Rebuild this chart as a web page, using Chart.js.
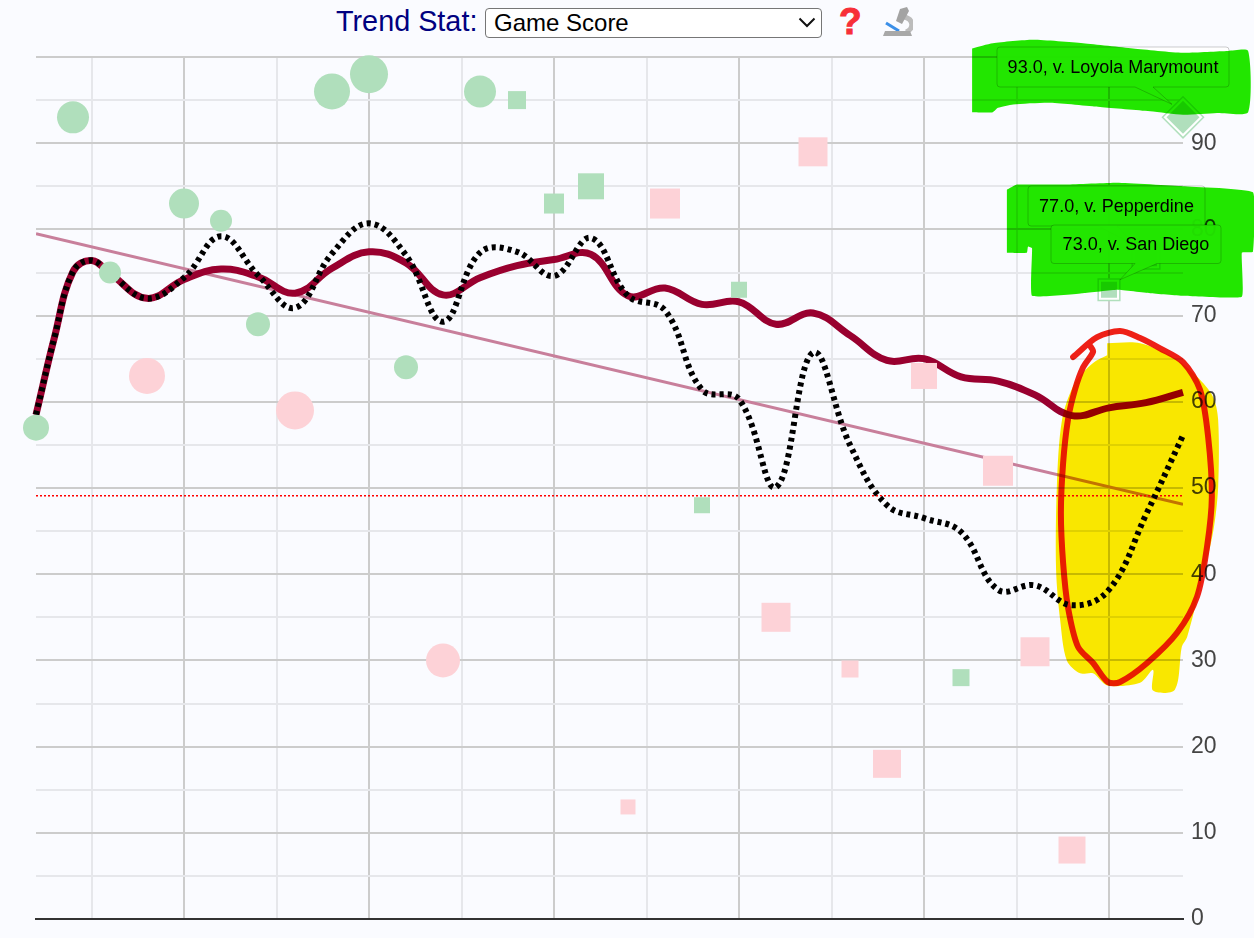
<!DOCTYPE html>
<html>
<head>
<meta charset="utf-8">
<title>Trend Stat</title>
<script src="https://cdn.jsdelivr.net/npm/chart.js@4"></script>
<style>
    html, body { margin: 0; padding: 0; background: #fafbff; overflow: hidden; }
    body { width: 1254px; height: 938px; position: relative; font-family: "Liberation Sans", Arial, sans-serif; }
    canvas { position: absolute; left: 0; top: 0; }
    #titulo { position: absolute; left: 336px; top: 4px; font-size: 28.8px; line-height: 34px; color: #000080; }
    #stat { position: absolute; left: 485px; top: 8px; width: 337px; height: 30px; font-family: inherit; font-size: 24px;
            appearance: none; -webkit-appearance: none; background: #fff; border: 1px solid #767676; border-radius: 4px;
            padding: 0 8px 1px; color: #000; }
    #seta { position: absolute; left: 798px; top: 17px; }
    #ajuda { position: absolute; left: 839px; top: 3px; font-size: 37px; line-height: 38px; font-weight: bold; color: #f72f38;
             -webkit-text-stroke: 1px #f72f38; }
    #micro { position: absolute; left: 882px; top: 6px; }
</style>
</head>
<body>
<div id="titulo">Trend Stat:</div>
<select id="stat"><option>Game Score</option></select>
<svg id="seta" width="18" height="11" viewBox="0 0 18 11"><path d="M1.5 1.5 L9 9 L16.5 1.5" fill="none" stroke="#111" stroke-width="2"/></svg>
<div id="ajuda">?</div>
<svg id="micro" width="31" height="30" viewBox="0 0 31 30">
    <path d="M22 11 C32 13 32 23 24 26" fill="none" stroke="#bcbcbc" stroke-width="5"/>
    <path d="M18 3 L25 1 L27 5 L20 18 L14 15 Z" fill="#a3a3a3"/>
    <path d="M4 17 L17 25" stroke="#3b8fe8" stroke-width="3"/>
    <path d="M3 25 L28 25 L30 30 L1 30 Z" fill="#a8a8a8"/>
</svg>
<canvas id="grafico" width="1254" height="938"></canvas>
<script>
// valores, um por jogo
const jogos = Array.from({ length: 32 }, (_, i) => i);
const gameScores = [57, 93, 75, 63, 83, 81, 69, 59, 96, 98, 64, 30, 96, 95, 83, 85, 13, 83, 48, 73, 35, 89, 29, 18, 63, 28, 52, 31, 8, 73, 77, 93];
const resultados = ['W', 'W', 'W', 'L', 'W', 'W', 'W', 'L', 'W', 'W', 'W', 'L', 'W', 'W', 'W', 'W', 'L', 'L', 'W', 'W', 'L', 'L', 'L', 'L', 'L', 'W', 'L', 'L', 'L', 'W', 'W', 'W'];
const locais = ['H', 'H', 'H', 'H', 'H', 'H', 'H', 'H', 'H', 'H', 'H', 'H', 'H', 'A', 'A', 'A', 'A', 'A', 'A', 'A', 'A', 'A', 'A', 'A', 'A', 'A', 'A', 'A', 'A', 'A', 'A', 'N'];
const tamanhos = [26, 32, 22, 36, 30, 22, 24, 38, 36, 38, 24, 34, 32, 18, 20, 26, 15, 30, 16, 16, 29, 29, 17, 28, 26, 17, 30, 29, 27, 16, 22, 33];
// posicoes das leituras das medias: um por jogo, mais duas leituras no arranque
const trendX = [0, 0.5, 1, 1.5, 2, 3, 4, 5, 6, 7, 8, 9, 10, 11, 12, 13, 14, 15, 16, 17, 18, 19, 20, 21, 22, 23, 24, 25, 26, 27, 28, 29, 30, 31];
const seasonTrend = [58.5, 67.5, 75.1, 76.4, 74.9, 72.0, 74.2, 75.4, 74.5, 72.6, 75.5, 77.4, 76.1, 72.4, 74.4, 75.8, 76.5, 77.1, 72.3, 73.2, 71.3, 71.6, 69.0, 70.3, 67.7, 64.8, 65.0, 62.9, 62.4, 60.8, 58.4, 59.3, 59.9, 61.1];
const recentTrend = [58.5, 67.5, 75.1, 76.4, 74.9, 72.0, 74.4, 79.2, 74.7, 70.9, 77.2, 80.7, 77.0, 69.3, 77.3, 77.4, 74.6, 79.0, 72.3, 70.6, 61.4, 60.3, 50.1, 65.7, 55.0, 48.0, 46.5, 44.9, 38.2, 38.7, 36.4, 38.2, 46.9, 56.1];
const fitLine = [{ x: 0, y: 79.5 }, { x: 31, y: 48.1 }];
const mediaLiga = [{ x: 0, y: 49.1 }, { x: 31, y: 49.1 }];
const destaques = [29, 30, 31];
const adversarios = { 29: 'v. San Diego', 30: 'v. Pepperdine', 31: 'v. Loyola Marymount' };

// marcacoes feitas a mao por cima da imagem, em unidades do grafico
const verdeTopo = [[25.30, 101.0], [25.86, 101.6], [26.95, 102.0], [28.30, 101.6], [29.65, 101.0], [31.0, 100.5], [32.22, 100.7], [32.76, 100.7], [32.76, 93.6], [31.92, 93.5], [31.0, 93.3], [30.11, 93.7], [28.76, 94.2], [27.41, 94.7], [26.41, 94.5], [26.0, 94.1], [25.86, 93.6], [25.30, 93.6]];
const verdeBaixo = [[26.24, 84.6], [26.51, 85.2], [27.86, 85.2], [29.22, 85.4], [31.0, 85.0], [32.89, 84.3], [32.89, 77.4], [32.59, 77.3], [32.59, 72.2], [31.0, 72.3], [30.11, 72.6], [29.22, 73.0], [28.30, 72.6], [26.92, 72.3], [26.92, 77.8], [26.81, 78.0], [26.78, 77.3], [26.24, 77.3]];
const amarelo = [[28.95, 66.8], [29.84, 66.8], [30.73, 65.2], [31.38, 62.9], [31.81, 60.6], [31.95, 57.9], [31.95, 50.1], [31.81, 44.8], [31.46, 38.5], [31.11, 32.7], [30.97, 31.6], [30.78, 26.6], [30.19, 26.5], [30.19, 28.9], [29.84, 27.4], [28.95, 27.1], [28.57, 28.5], [28.22, 28.5], [27.86, 30.0], [27.68, 34.7], [27.57, 40.5], [27.59, 50.1], [27.73, 57.9], [28.08, 62.2], [28.57, 64.5], [28.95, 65.4]];
const circuloVermelho = [[28.03, 65.2], [28.68, 67.5], [29.30, 68.2], [29.84, 67.4], [30.38, 66.2], [31.0, 64.6], [31.46, 61.4], [31.68, 55.9], [31.78, 49.0], [31.65, 43.2], [31.38, 37.4], [30.84, 33.2], [30.03, 29.7], [29.30, 27.5], [28.97, 27.5], [28.57, 29.7], [28.16, 31.6], [27.89, 36.2], [27.76, 41.3], [27.70, 47.1], [27.76, 52.9], [27.89, 57.9], [28.08, 61.4], [28.30, 64.0], [28.57, 65.8], [28.49, 66.5]];

const xTicks = [1.5, 4, 6.5, 9, 11.5, 14, 16.5, 19, 21.5, 24, 26.5, 29];
const xMajor = [4, 9, 14, 19, 24, 29];

const serie = valores => valores.map((y, i) => ({ x: jogos[i], y: y }));
const media = valores => valores.map((y, i) => ({ x: trendX[i], y: y }));
const pares = lista => lista.map(p => ({ x: p[0], y: p[1] }));

function raio(i) {
    if (locais[i] === 'A') return tamanhos[i] * Math.SQRT1_2;
    return tamanhos[i] / 2;
}
function estilo(i) {
    return locais[i] === 'N' ? 'rectRot' : locais[i] === 'A' ? 'rect' : 'circle';
}

// baloes dos tres ultimos jogos, na ordem em que sao pintados
const baloes = [
    { jogo: 31, box: [997, 47, 232, 40], base: [1135, 1153], dx: -11, dy: -13 },
    { jogo: 30, box: [1028, 186, 177, 40], base: [1098, 1117], dx: -11, dy: -10 },
    { jogo: 29, box: [1051, 225, 170, 38.5], base: [1135, 1157], dx: 11, dy: -10 }
];

function desenharBaloes(chart) {
    const ctx = chart.ctx;
    const sx = chart.scales.x;
    const sy = chart.scales.y;
    ctx.save();
    baloes.forEach(b => {
        const [x, y, w, h] = b.box;
        const px = sx.getPixelForValue(b.jogo) + b.dx;
        const py = sy.getPixelForValue(gameScores[b.jogo]) + b.dy;
        ctx.beginPath();
        ctx.moveTo(x + 3, y);
        ctx.lineTo(x + w - 3, y);
        ctx.quadraticCurveTo(x + w, y, x + w, y + 3);
        ctx.lineTo(x + w, y + h - 3);
        ctx.quadraticCurveTo(x + w, y + h, x + w - 3, y + h);
        ctx.lineTo(b.base[1], y + h);
        ctx.lineTo(px, py);
        ctx.lineTo(b.base[0], y + h);
        ctx.lineTo(x + 3, y + h);
        ctx.quadraticCurveTo(x, y + h, x, y + h - 3);
        ctx.lineTo(x, y + 3);
        ctx.quadraticCurveTo(x, y, x + 3, y);
        ctx.closePath();
        ctx.fillStyle = 'rgba(255, 255, 255, 0.95)';
        ctx.fill();
        ctx.strokeStyle = 'rgba(0, 0, 0, 0.2)';
        ctx.lineWidth = 1;
        ctx.stroke();
        ctx.fillStyle = '#000';
        ctx.font = '18px "Liberation Sans", Arial, sans-serif';
        ctx.textAlign = 'center';
        ctx.textBaseline = 'middle';
        ctx.fillText(gameScores[b.jogo].toFixed(1) + ', ' + adversarios[b.jogo], x + w / 2, y + h / 2 + 1);
    });
    ctx.restore();
}

const tintaPlugin = {
    id: 'tinta',
    beforeDatasetDraw(chart, args) {
        const ds = chart.data.datasets[args.index];
        if (!ds.tinta) return;
        const ctx = chart.ctx;
        ctx.save();
        ctx.globalCompositeOperation = 'multiply';
        ctx.beginPath();
        args.meta.dataset.path(ctx);
        if (ds.tinta === 'cheia') {
            ctx.closePath();
            ctx.fillStyle = ds.cor;
            ctx.fill();
        } else {
            ctx.strokeStyle = ds.cor;
            ctx.lineWidth = 6;
            ctx.lineCap = 'round';
            ctx.lineJoin = 'round';
            ctx.stroke();
        }
        ctx.restore();
        return false;
    },
    afterDatasetDraw(chart, args) {
        if (chart.data.datasets[args.index].label === 'Game Score') desenharBaloes(chart);
    }
};

function marcacao(label, lista, tinta, cor, ordem, tensao) {
    return {
        label: label, data: pares(lista), tinta: tinta, cor: cor, order: ordem,
        showLine: true, pointRadius: 0, tension: tensao, capBezierPoints: false, clip: false
    };
}

new Chart(document.getElementById('grafico').getContext('2d'), {
    type: 'scatter',
    data: {
        datasets: [
            { label: 'Fit', data: fitLine, showLine: true, pointRadius: 0, borderColor: '#c87f9b', borderWidth: 3, order: 7 },
            { label: 'Media', data: mediaLiga, showLine: true, pointRadius: 0, borderColor: '#ff0000', borderWidth: 1.5, borderDash: [2, 2], order: 6 },
            { label: 'Season', data: media(seasonTrend), showLine: true, pointRadius: 0, borderColor: '#99002f', borderWidth: 7, tension: 0.4, capBezierPoints: false, clip: false, order: 5 },
            { label: 'Recent', data: media(recentTrend), showLine: true, pointRadius: 0, borderColor: '#000', borderWidth: 6, borderDash: [4, 4], tension: 0.4, capBezierPoints: false, clip: false, order: 4 },
            {
                label: 'Anel', data: destaques.map(i => ({ x: jogos[i], y: gameScores[i] })), order: 3, clip: false,
                pointStyle: c => estilo(destaques[c.dataIndex]),
                pointRadius: c => raio(destaques[c.dataIndex]) + 4,
                pointBackgroundColor: '#fff', pointBorderColor: '#b0dfbc', pointBorderWidth: 1.5
            },
            {
                label: 'Game Score', data: serie(gameScores), order: 2, clip: false,
                pointStyle: c => estilo(c.dataIndex),
                pointRadius: c => raio(c.dataIndex),
                pointBackgroundColor: c => resultados[c.dataIndex] === 'W' ? '#b0dfbc' : '#fdd2d7',
                pointBorderWidth: 0
            },
            marcacao('verde1', verdeTopo, 'cheia', '#22e600', 1, 0.2),
            marcacao('verde2', verdeBaixo, 'cheia', '#22e600', 0, 0.1),
            marcacao('amarelo', amarelo, 'cheia', '#f9e700', -1, 0.3),
            marcacao('vermelho', circuloVermelho, 'traco', '#ee2017', -2, 0.3)
        ]
    },
    options: {
        responsive: false,
        animation: false,
        events: [],
        layout: { autoPadding: false, padding: { left: 36, top: 57, bottom: 19, right: 0 } },
        plugins: { legend: { display: false }, tooltip: { enabled: false } },
        scales: {
            x: {
                type: 'linear', min: 0, max: 31,
                afterBuildTicks: eixo => { eixo.ticks = xTicks.map(v => ({ value: v })); },
                afterFit: eixo => { eixo.height = 0; },
                ticks: { display: false },
                border: { display: true, color: '#333', width: 2 },
                grid: {
                    drawTicks: false, lineWidth: 2,
                    color: c => xMajor.includes(c.tick.value) ? '#cccccc' : '#e6e7eb'
                }
            },
            y: {
                position: 'right', min: 0, max: 100,
                afterFit: eixo => { eixo.width = 71; eixo.paddingTop = 0; eixo.paddingBottom = 0; },
                border: { display: false },
                grid: {
                    drawTicks: false, lineWidth: 2,
                    color: c => c.tick.value === 0 ? '#333' : c.tick.value % 10 === 0 ? '#cccccc' : '#e6e7eb'
                },
                ticks: {
                    stepSize: 5, autoSkip: false, padding: 8, color: '#444',
                    font: { family: '"Liberation Sans", Arial, sans-serif', size: 23 },
                    callback: v => (v % 10 === 0 && v < 100) ? v : ''
                }
            }
        }
    },
    plugins: [tintaPlugin]
});
</script>
</body>
</html>
